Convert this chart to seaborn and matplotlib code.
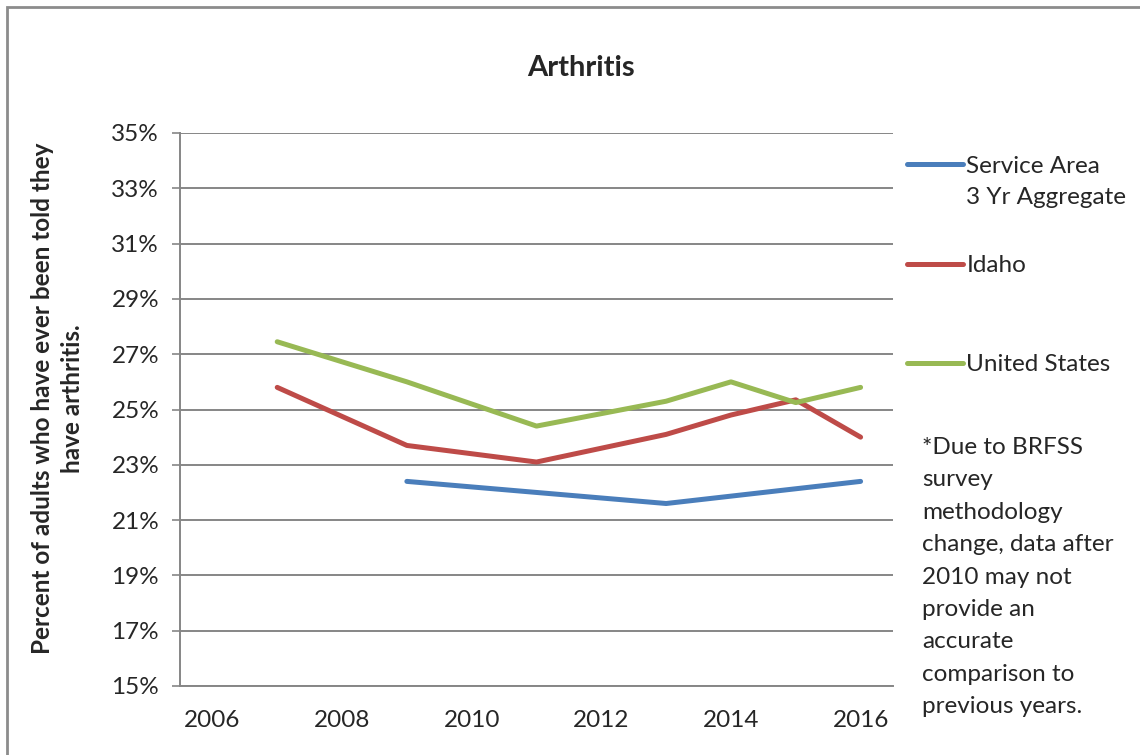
import pandas as pd
import matplotlib.pyplot as plt
import seaborn as sns
from matplotlib.patches import Rectangle
from matplotlib.ticker import FuncFormatter

# Values (percent)
svc_years = [2009, 2013, 2016]
svc_values = [22.4, 21.6, 22.4]

idaho_years = [2007, 2009, 2011, 2013, 2014, 2015, 2016]
idaho_values = [25.8, 23.7, 23.1, 24.1, 24.8, 25.35, 24.0]

us_years = [2007, 2009, 2011, 2013, 2014, 2015, 2016]
us_values = [27.45, 26.0, 24.4, 25.3, 26.0, 25.25, 25.8]

series_names = ["Service Area", "Idaho", "United States"]
colors = ["#4A7EBB", "#BE4B48", "#98B954"]

x_ticks = [2006, 2008, 2010, 2012, 2014, 2016]
y_ticks = [15, 17, 19, 21, 23, 25, 27, 29, 31, 33, 35]

note = ("*Due to BRFSS\nsurvey\nmethodology\nchange, data after\n2010 may not\n"
        "provide an\naccurate\ncomparison to\nprevious years.")

# long-form table for seaborn
df = pd.concat([
    pd.DataFrame({"year": svc_years, "pct": svc_values, "series": series_names[0]}),
    pd.DataFrame({"year": idaho_years, "pct": idaho_values, "series": series_names[1]}),
    pd.DataFrame({"year": us_years, "pct": us_values, "series": series_names[2]}),
])

sns.set_style("white")
plt.rcParams['font.family'] = ['Lato', 'DejaVu Sans']

fig = plt.figure(figsize=(11.4, 7.55), dpi=100)
ax = fig.add_axes([180 / 1140, 1 - 686 / 755, (893 - 180) / 1140, (686 - 133) / 755])

sns.lineplot(data=df, x="year", y="pct", hue="series", hue_order=series_names,
             palette=colors, linewidth=3.6, ax=ax, legend=True,
             solid_capstyle="round")

ax.set_xlim(2005.5, 2016.5)
ax.set_ylim(15, 35)
ax.set_xticks(x_ticks)
ax.set_yticks(y_ticks)
ax.yaxis.set_major_formatter(FuncFormatter(lambda v, p: f"{v:.0f}%"))
ax.grid(axis="y", color="#868686", linewidth=1.4)
ax.set_axisbelow(True)
for side in ["top", "right"]:
    ax.spines[side].set_visible(False)
for side in ["left", "bottom"]:
    ax.spines[side].set_color("#868686")
    ax.spines[side].set_linewidth(1.4)
ax.tick_params(axis="y", labelsize=17.5, left=True, length=6, color="#868686",
               width=1.2, pad=9)
ax.tick_params(axis="x", labelsize=17.5, bottom=False, pad=14)
ax.set_xlabel("")
ax.set_ylabel("Percent of adults who have ever been told they\nhave arthritis.",
              fontsize=17.5, fontweight="bold", linespacing=1.35)
ax.yaxis.set_label_coords(-0.135, 0.52)

handles, labels = ax.get_legend_handles_labels()
ax.get_legend().remove()
fig.legend(handles, labels, loc="upper left", bbox_to_anchor=(897 / 1140, 1 - 146 / 755),
           frameon=False, fontsize=17.5, handlelength=2.3, handletextpad=0.15,
           labelspacing=3.22, borderaxespad=0)
fig.text(966 / 1140, 1 - 197 / 755, "3 Yr Aggregate", ha="left", va="center",
         fontsize=17.5)

fig.text(581 / 1140, 1 - 68 / 755, "Arthritis", ha="center", va="center",
         fontsize=21, fontweight="bold")
fig.text(922 / 1140, 1 - 437 / 755, note, ha="left", va="top", fontsize=17.5,
         linespacing=1.67)

# outer chart border
fig.patches.append(Rectangle((7 / 1140, -0.05), 1.2, 1 - 7 / 755 + 0.05,
                             transform=fig.transFigure, fill=False,
                             edgecolor="#8C8C8C", linewidth=2))

fig.savefig("out.png", dpi=100)
